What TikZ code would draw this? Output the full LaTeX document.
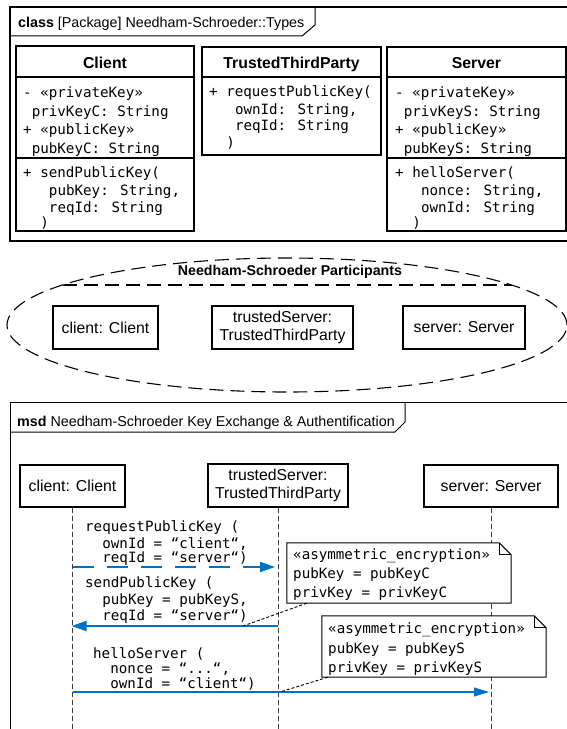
\documentclass[tikz,border=0pt]{standalone}
\usepackage{fontspec}
\setmainfont{Liberation Sans}
\newfontfamily\codefont{DejaVu Sans Mono}
\usetikzlibrary{arrows.meta,shapes.geometric}
\definecolor{msgblue}{RGB}{0,114,198}
\definecolor{lifegray}{RGB}{60,60,60}

\begin{document}
\begin{tikzpicture}[x=1bp,y=-1bp,
  code/.style={font=\codefont\fontsize{14.2bp}{17bp}\selectfont, anchor=base west, inner sep=0pt},
  cname/.style={font=\bfseries\fontsize{15.8bp}{18bp}\selectfont, anchor=base, inner sep=0pt},
  classbox/.style={draw, line width=1.1bp, inner sep=0pt},
  objbox/.style={draw, line width=1.1bp, inner sep=0pt, align=center,
    font=\fontsize{15.8bp}{18bp}\selectfont},
  frameline/.style={line width=1.8bp},
  tabline/.style={line width=1bp},
  frametitle/.style={font=\fontsize{14.3bp}{17bp}\selectfont, anchor=base west, inner sep=0pt},
  groupline/.style={line width=1.1bp, dash pattern=on 14bp off 7bp},
  lifeline/.style={draw=lifegray, line width=0.9bp, dash pattern=on 5bp off 3bp},
  msgthick/.style={draw=msgblue, line width=1.8bp, -{Triangle[length=15bp,width=10bp]}},
  msgthin/.style={draw=msgblue, line width=1.1bp, -{Triangle[length=15bp,width=9bp]}},
  notebox/.style={inner sep=0pt},
  noteline/.style={line width=0.9bp, dash pattern=on 3bp off 2bp},
]
\useasboundingbox (0,0) rectangle (567,729);
\clip (0,0) rectangle (567,729);
\fill[white] (0,0) rectangle (567,729);

% ---------- class package ----------
\draw[frameline] (590,7) -- (10,7) -- (10,241) -- (590,241);
\draw[tabline] (10,36) -- (302,36) -- (315,25) -- (315,7);
\node[frametitle] (pkgtitle) at (18,28) {\textbf{class} [Package] Needham-Schroeder::Types};

% Client
\node[classbox, minimum width=178bp, minimum height=185bp] (client) at (105,138.5) {};
\draw[line width=1.1bp] (client.west |- 0,77) -- (client.east |- 0,77);
\draw[line width=1.1bp] (client.west |- 0,158) -- (client.east |- 0,158);
\node[cname] (clientname) at (105,69) {Client};
\node[code] (ca1) at (23,98) {- «privateKey»};
\node[code] (ca2) at (31.6,117) {privKeyC: String};
\node[code] (ca3) at (23,135) {+ «publicKey»};
\node[code] (ca4) at (31.6,153) {pubKeyC: String};
\node[code] (co1) at (23,177) {+ sendPublicKey(};
\node[code] (co2) at (48.8,195) {pubKey: String,};
\node[code] (co3) at (48.8,212) {reqId: String};
\node[code] (co4) at (40.2,227) {)};

% TrustedThirdParty
\node[classbox, minimum width=179bp, minimum height=108bp] (ttp) at (291.5,101) {};
\draw[line width=1.1bp] (ttp.west |- 0,77) -- (ttp.east |- 0,77);
\node[cname] (ttpname) at (291.5,69) {TrustedThirdParty};
\node[code] (to1) at (209,97) {+ requestPublicKey(};
\node[code] (to2) at (234.8,115) {ownId: String,};
\node[code] (to3) at (234.8,131) {reqId: String};
\node[code] (to4) at (226.2,147) {)};

% Server
\node[classbox, minimum width=179bp, minimum height=184bp] (server) at (476.5,139) {};
\draw[line width=1.1bp] (server.west |- 0,77) -- (server.east |- 0,77);
\draw[line width=1.1bp] (server.west |- 0,158) -- (server.east |- 0,158);
\node[cname] (servername) at (476.5,69) {Server};
\node[code] (sa1) at (395,98) {- «privateKey»};
\node[code] (sa2) at (403.6,117) {privKeyS: String};
\node[code] (sa3) at (395,135) {+ «publicKey»};
\node[code] (sa4) at (403.6,153) {pubKeyS: String};
\node[code] (so1) at (395,177) {+ helloServer(};
\node[code] (so2) at (420.8,195) {nonce: String,};
\node[code] (so3) at (420.8,212) {ownId: String};
\node[code] (so4) at (412.2,227) {)};

% ---------- participants group ----------
\node[draw, ellipse, groupline, minimum width=560bp, minimum height=134bp, inner sep=0pt]
  (grp) at (287,325) {};
\begin{scope}
  \clip (287,325) ellipse [x radius=280, y radius=67];
  \draw[groupline] (0,285) -- (567,285);
\end{scope}
\node[font=\bfseries\fontsize{14.2bp}{17bp}\selectfont, anchor=base, inner sep=0pt]
  (grptitle) at (290,275) {Needham-Schroeder Participants};
\node[objbox, minimum width=105bp, minimum height=43bp] (pclient) at (105.5,327.5) {client: Client};
\node[objbox, minimum width=141bp, minimum height=43bp] (ptrusted) at (282.5,327.5) {trustedServer:\\TrustedThirdParty};
\node[objbox, minimum width=122bp, minimum height=43bp] (pserver) at (464,327.5) {server: Server};

% ---------- sequence diagram ----------
\draw[tabline] (590,402) -- (10,402) -- (10,740);
\draw[tabline] (10,432) -- (395,432) -- (405,422) -- (405,402);
\node[frametitle] (msdtitle) at (17,426) {\textbf{msd} Needham-Schroeder Key Exchange \& Authentification};

\node[objbox, minimum width=105bp, minimum height=42bp] (lclient) at (72.5,486) {client: Client};
\node[objbox, minimum width=140bp, minimum height=43bp] (ltrusted) at (278,485.5) {trustedServer:\\TrustedThirdParty};
\node[objbox, minimum width=134bp, minimum height=42bp] (lserver) at (491,486) {server: Server};

\coordinate (endclient) at (72.5,740);
\coordinate (endtrusted) at (278,740);
\coordinate (endserver) at (491,740);
\draw[lifeline] (lclient.south) -- (endclient);
\draw[lifeline] (ltrusted.south) -- (endtrusted);
\draw[lifeline] (lserver.south) -- (endserver);

% requestPublicKey
\node[code] (m1a) at (85,531) {requestPublicKey (};
\node[code] (m1b) at (102.2,548) {ownId = “client“,};
\node[code] (m1c) at (102.2,562) {reqId = “server“)};
\draw[msgthick, dash pattern=on 21bp off 13bp, shorten >=3bp] (lclient |- 0,567) -- (ltrusted |- 0,567);

% sendPublicKey
\node[code] (m2a) at (85,587) {sendPublicKey (};
\node[code] (m2b) at (102.2,604) {pubKey = pubKeyS,};
\node[code] (m2c) at (102.2,620) {reqId = “server“)};
\draw[msgthick, shorten >=-1bp] (ltrusted |- 0,626) -- (lclient |- 0,626);

% helloServer
\node[code] (m3a) at (93,658) {helloServer (};
\node[code] (m3b) at (110.2,673) {nonce = “...“,};
\node[code] (m3c) at (110.2,688) {ownId = “client“)};
\draw[msgthin, shorten >=2bp] (lclient |- 0,692) -- (lserver |- 0,692);

% encryption notes
\node[notebox, minimum width=224bp, minimum height=60bp] (n1) at (399,573) {};
\draw[line width=1bp, fill=white] (n1.south west) -- (n1.north west) -- ([xshift=-12bp]n1.north east)
  -- ([yshift=-12bp]n1.north east) -- (n1.south east) -- cycle;
\draw[line width=1bp] ([xshift=-12bp]n1.north east) |- ([yshift=-12bp]n1.north east);
\node[code] (n1a) at (293,559) {«asymmetric\_encryption»};
\node[code] (n1b) at (293,578) {pubKey = pubKeyC};
\node[code] (n1c) at (293,597) {privKey = privKeyC};

\node[notebox, minimum width=224bp, minimum height=61bp] (n2) at (434,646.5) {};
\draw[line width=1bp, fill=white] (n2.south west) -- (n2.north west) -- ([xshift=-12bp]n2.north east)
  -- ([yshift=-12bp]n2.north east) -- (n2.south east) -- cycle;
\draw[line width=1bp] ([xshift=-12bp]n2.north east) |- ([yshift=-12bp]n2.north east);
\node[code] (n2a) at (328,633) {«asymmetric\_encryption»};
\node[code] (n2b) at (328,653) {pubKey = pubKeyS};
\node[code] (n2c) at (328,672) {privKey = privKeyS};

% note anchors on the messages
\coordinate (m2pt) at (243,626);
\coordinate (m3pt) at (280,692);
\draw[noteline] ([xshift=20bp]n1.south west) -- (m2pt);
\draw[noteline] ([xshift=6bp]n2.south west) -- (m3pt);
\end{tikzpicture}
\end{document}
